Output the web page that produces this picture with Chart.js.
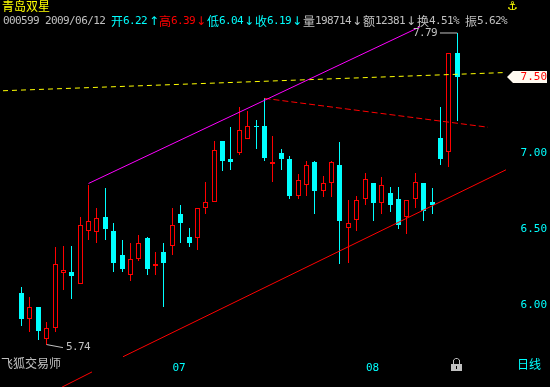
<!DOCTYPE html>
<html lang="zh-CN">

<head>
    <meta charset="UTF-8">
    <title>青岛双星</title>
    <style>
        body {
            margin: 0;
            background-color: #000;
            width: 550px;
            height: 387px;
            overflow: hidden;
        }

        canvas {
            position: absolute;
            left: 0;
            top: 0;
        }

        span {
            position: absolute;
            white-space: pre;
            line-height: 14px;
            font-size: 12px;
            color: #c0c0c0;
        }

        .cjk {
            font-family: "Noto Sans CJK SC", sans-serif;
        }

        .num {
            font-family: "DejaVu Sans Mono", monospace;
            font-size: 11px;
            letter-spacing: -0.6px;
        }

        .sym {
            font-family: "DejaVu Sans", sans-serif;
        }
    </style>
    <script src="https://cdn.jsdelivr.net/npm/chart.js"></script>
</head>

<body>
    <canvas id="chart" width="550" height="387"></canvas>
    <div id="labels"></div>

    <script>
        // candles, oldest first (last one is the current day)
        const opens = [6.08, 5.91, 5.99, 5.78, 5.85, 6.21, 6.22, 6.14, 6.49, 6.48, 6.58, 6.49, 6.33, 6.20, 6.30, 6.44, 6.26, 6.35, 6.39, 6.60, 6.45, 6.44, 6.64, 6.68, 7.08, 6.96, 7.00, 7.09, 7.18, 7.18, 6.93, 7.00, 6.96, 6.72, 6.79, 6.94, 6.75, 6.80, 6.92, 6.51, 6.56, 6.70, 6.80, 6.67, 6.74, 6.70, 6.58, 6.70, 6.80, 6.68, 7.10, 7.01, 7.66];
        const highs = [6.12, 6.05, 5.99, 5.89, 6.38, 6.39, 6.39, 6.58, 6.79, 6.64, 6.77, 6.54, 6.43, 6.41, 6.46, 6.45, 6.35, 6.41, 6.64, 6.66, 6.51, 6.64, 6.81, 7.08, 7.08, 7.17, 7.30, 7.28, 7.22, 7.36, 7.11, 7.03, 6.98, 6.86, 6.95, 6.95, 6.85, 6.95, 7.07, 6.69, 6.72, 6.87, 6.80, 6.84, 6.78, 6.78, 6.69, 6.87, 6.80, 6.77, 7.30, 7.66, 7.79];
        const lows = [5.86, 5.82, 5.77, 5.74, 5.82, 6.10, 6.04, 6.14, 6.43, 6.41, 6.43, 6.22, 6.22, 6.16, 6.29, 6.20, 6.20, 5.99, 6.33, 6.41, 6.38, 6.36, 6.60, 6.68, 6.88, 6.89, 6.99, 7.09, 7.03, 6.95, 6.81, 6.89, 6.70, 6.70, 6.72, 6.60, 6.71, 6.71, 6.27, 6.28, 6.49, 6.66, 6.55, 6.60, 6.61, 6.50, 6.47, 6.64, 6.55, 6.60, 6.92, 6.91, 7.21];
        const closes = [5.91, 5.99, 5.83, 5.85, 6.27, 6.23, 6.19, 6.53, 6.55, 6.57, 6.50, 6.28, 6.24, 6.30, 6.41, 6.24, 6.27, 6.28, 6.53, 6.54, 6.41, 6.64, 6.68, 7.02, 6.95, 6.94, 7.15, 7.18, 7.17, 6.97, 6.94, 6.96, 6.72, 6.82, 6.92, 6.75, 6.80, 6.94, 6.55, 6.54, 6.69, 6.83, 6.67, 6.79, 6.66, 6.53, 6.69, 6.81, 6.62, 6.66, 6.96, 7.66, 7.50];

        // price axis and month marks
        const priceTicks = [6.00, 6.50, 7.00, 7.50];
        const monthTicks = [18.8, 41.9];
        const monthLabels = ['07', '08'];

        // trend lines drawn by hand on the original, in candle index / price
        const channelTop = [{ x: 8, y: 6.80 }, { x: 47.55, y: 7.83 }];
        const channelBottom = [{ x: 4.83, y: 5.46 }, { x: 8.41, y: 5.56 }, { x: 10, y: null }, { x: 12.11, y: 5.66 }, { x: 57.82, y: 6.89 }];
        const resistance = [{ x: 29, y: 7.36 }, { x: 55.67, y: 7.17 }];
        const levelLine = [{ x: -2.21, y: 7.41 }, { x: 57.82, y: 7.53 }];
        const highLeader = [{ x: 49.94, y: 7.79 }, { x: 52, y: 7.79 }];
        const lowLeader = [{ x: 3, y: 5.74 }, { x: 4.95, y: 5.72 }];

        const RED = '#ff0000';
        const CYAN = '#00ffff';
        const GREY = '#c0c0c0';

        // header line and corner labels
        const textBits = [
            ['青岛双星', 2, -1, '#ffff00', 'cjk'],
            ['000599', 3, 14, GREY, 'num'],
            ['2009/06/12', 45, 14, GREY, 'num'],
            ['开', 111, 14, CYAN, 'cjk'], ['6.22', 123, 14, CYAN, 'num'], ['↑', 149, 14, CYAN, 'sym'],
            ['高', 159, 14, RED, 'cjk'], ['6.39', 171, 14, RED, 'num'], ['↓', 196, 14, RED, 'sym'],
            ['低', 207, 14, CYAN, 'cjk'], ['6.04', 219, 14, CYAN, 'num'], ['↓', 244, 14, CYAN, 'sym'],
            ['收', 255, 14, CYAN, 'cjk'], ['6.19', 267, 14, CYAN, 'num'], ['↓', 292, 14, CYAN, 'sym'],
            ['量', 303, 14, GREY, 'cjk'], ['198714', 315, 14, GREY, 'num'], ['↓', 352, 14, GREY, 'sym'],
            ['额', 363, 14, GREY, 'cjk'], ['12381', 375, 14, GREY, 'num'], ['↓', 406, 14, GREY, 'sym'],
            ['换', 417, 14, GREY, 'cjk'], ['4.51%', 429, 14, GREY, 'num'],
            ['振', 465, 14, GREY, 'cjk'], ['5.62%', 477, 14, GREY, 'num'],
            ['⚓', 507, -1, '#ffff00', 'sym'],
            ['飞狐交易师', 1, 356, GREY, 'cjk'],
            ['日线', 517, 357, CYAN, 'cjk']
        ];

        const labelBox = document.getElementById('labels');
        textBits.forEach(([text, left, top, color, cls]) => {
            const el = document.createElement('span');
            el.textContent = text;
            el.className = cls;
            el.style.left = left + 'px';
            el.style.top = top + 'px';
            el.style.color = color;
            labelBox.appendChild(el);
        });

        const isUp = opens.map((o, i) => closes[i] >= o);

        function lineSet(data, color, dash) {
            return {
                type: 'line',
                data: data,
                borderColor: color,
                borderWidth: 1,
                borderDash: dash || [],
                pointRadius: 0,
                spanGaps: false,
                order: 0
            };
        }

        // labels sit inside the plot, so the axes must not take any room
        function noRoom(axis) {
            axis.width = axis.isHorizontal() ? axis.width : 0;
            axis.height = axis.isHorizontal() ? 0 : axis.height;
            axis.paddingTop = 0;
            axis.paddingBottom = 0;
            axis.paddingLeft = 0;
            axis.paddingRight = 0;
        }

        // the original is not antialiased, so put the bars on whole pixels
        const pixelSnap = {
            id: 'pixelSnap',
            beforeDatasetsDraw(chart) {
                chart.getSortedVisibleDatasetMetas().forEach(meta => {
                    if (meta.type !== 'bar') return;
                    meta.data.forEach(bar => {
                        bar.x = Math.floor(bar.x) + 0.5;
                        bar.y = Math.round(bar.y);
                        bar.base = Math.round(bar.base);
                    });
                });
            }
        };

        // white tag behind the current price, drawn before the axis labels
        const priceTag = {
            id: 'priceTag',
            beforeDraw(chart) {
                const ctx = chart.ctx;
                const y = Math.round(chart.scales.y.getPixelForValue(closes[closes.length - 1]));
                ctx.save();
                ctx.fillStyle = '#fffaf0';
                ctx.beginPath();
                ctx.moveTo(507, y);
                ctx.lineTo(513, y - 6);
                ctx.lineTo(547, y - 6);
                ctx.lineTo(547, y + 6);
                ctx.lineTo(513, y + 6);
                ctx.closePath();
                ctx.fill();
                ctx.restore();
            }
        };

        // high / low captions and the lock icon
        const extras = {
            id: 'extras',
            afterDraw(chart) {
                const ctx = chart.ctx;
                const { x, y } = chart.scales;
                ctx.save();
                ctx.fillStyle = GREY;
                ctx.strokeStyle = GREY;
                ctx.font = '11px "DejaVu Sans Mono"';
                ctx.letterSpacing = '-0.6px';
                ctx.textBaseline = 'middle';
                ctx.textAlign = 'right';
                ctx.fillText(Math.max(...highs).toFixed(2), x.getPixelForValue(highLeader[0].x) - 3, y.getPixelForValue(highLeader[0].y));
                ctx.textAlign = 'left';
                ctx.fillText(Math.min(...lows).toFixed(2), x.getPixelForValue(lowLeader[1].x) + 3, y.getPixelForValue(lowLeader[1].y));

                ctx.fillRect(451, 364, 11, 7);
                ctx.lineWidth = 1;
                ctx.beginPath();
                ctx.moveTo(453.5, 364);
                ctx.lineTo(453.5, 360);
                ctx.lineTo(455.5, 358.5);
                ctx.lineTo(457.5, 358.5);
                ctx.lineTo(459.5, 360);
                ctx.lineTo(459.5, 364);
                ctx.stroke();
                ctx.fillStyle = '#000';
                ctx.fillRect(456, 366, 1, 3);
                ctx.restore();
            }
        };

        new Chart(document.getElementById('chart'), {
            type: 'bar',
            data: {
                datasets: [
                    lineSet(channelTop, '#ff00ff'),
                    lineSet(channelBottom, RED),
                    lineSet(resistance, RED, [6, 3]),
                    lineSet(levelLine, '#ffff00', [5, 4]),
                    lineSet(highLeader, GREY),
                    lineSet(lowLeader, GREY),
                    {
                        // candle bodies
                        data: opens.map((o, i) => ({ x: i, y: [o, closes[i]] })),
                        backgroundColor: isUp.map(up => up ? '#000' : CYAN),
                        borderColor: isUp.map(up => up ? RED : CYAN),
                        borderWidth: 1,
                        borderSkipped: false,
                        inflateAmount: 0,
                        barThickness: 5,
                        grouped: false,
                        order: 1
                    },
                    {
                        // wicks
                        data: lows.map((l, i) => ({ x: i, y: [l, highs[i]] })),
                        backgroundColor: isUp.map(up => up ? RED : CYAN),
                        borderWidth: 0,
                        inflateAmount: 0,
                        barThickness: 1,
                        grouped: false,
                        order: 2
                    }
                ]
            },
            options: {
                responsive: false,
                animation: false,
                layout: { padding: 0 },
                plugins: {
                    legend: { display: false },
                    tooltip: { enabled: false }
                },
                scales: {
                    x: {
                        type: 'linear',
                        offset: false,
                        min: -2.566,
                        max: 63.07,
                        position: { y: 5.63 },
                        grid: { display: false, drawTicks: false },
                        border: { display: false },
                        afterBuildTicks: axis => { axis.ticks = monthTicks.map(v => ({ value: v })); },
                        afterFit: noRoom,
                        ticks: {
                            autoSkip: false,
                            maxRotation: 0,
                            padding: 0,
                            color: CYAN,
                            font: { family: 'DejaVu Sans Mono', size: 11 },
                            callback: value => monthLabels[monthTicks.indexOf(value)]
                        }
                    },
                    y: {
                        type: 'linear',
                        position: 'right',
                        min: 5.461,
                        max: 8.007,
                        grid: { display: false, drawTicks: false },
                        border: { display: false },
                        afterBuildTicks: axis => { axis.ticks = priceTicks.map(v => ({ value: v })); },
                        afterFit: noRoom,
                        ticks: {
                            mirror: true,
                            autoSkip: false,
                            padding: -3,
                            color: ctx => ctx.tick.value === closes[closes.length - 1] ? RED : CYAN,
                            font: { family: 'DejaVu Sans Mono', size: 11 },
                            callback: value => value.toFixed(2)
                        }
                    }
                }
            },
            plugins: [pixelSnap, priceTag, extras]
        });
    </script>
</body>

</html>
